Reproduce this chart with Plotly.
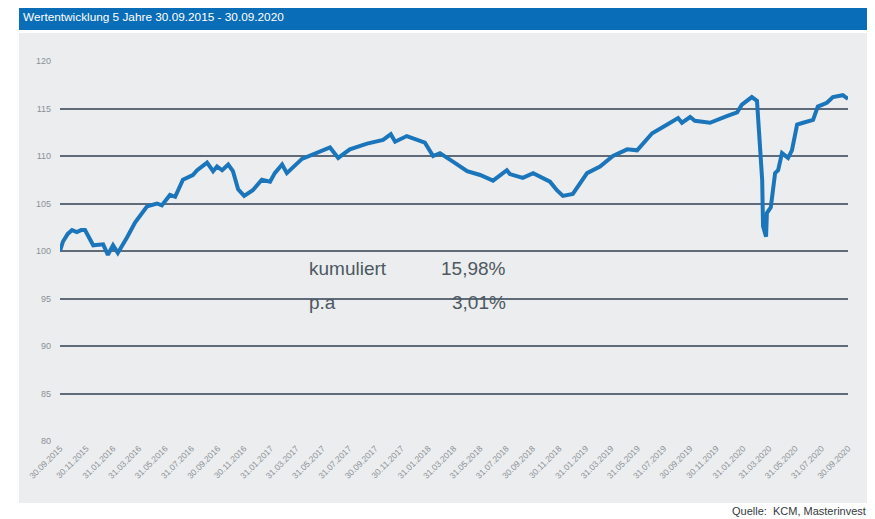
import plotly.graph_objects as go

datum = [
    "2015-09-30", "2015-10-07", "2015-10-18", "2015-10-28", "2015-11-08", "2015-11-18", "2015-11-27",
    "2015-12-08", "2015-12-16", "2016-01-08", "2016-01-19", "2016-01-31", "2016-02-11", "2016-03-03",
    "2016-03-22", "2016-04-19", "2016-05-12", "2016-05-23", "2016-06-11", "2016-06-23", "2016-07-11",
    "2016-08-03", "2016-08-13", "2016-09-05", "2016-09-19", "2016-09-28", "2016-10-10", "2016-10-24",
    "2016-11-04", "2016-11-16", "2016-11-30", "2016-12-20", "2017-01-10", "2017-01-29", "2017-02-09",
    "2017-02-26", "2017-03-09", "2017-04-13", "2017-05-18", "2017-06-17", "2017-07-06", "2017-08-02",
    "2017-09-11", "2017-10-18", "2017-11-05", "2017-11-15", "2017-12-12", "2018-01-05", "2018-01-23",
    "2018-02-11", "2018-02-27", "2018-03-29", "2018-05-01", "2018-05-31", "2018-06-30", "2018-08-01",
    "2018-08-08", "2018-09-07", "2018-10-01", "2018-11-09", "2018-11-25", "2018-12-09", "2019-01-01",
    "2019-02-03", "2019-03-05", "2019-04-04", "2019-05-07", "2019-05-30", "2019-06-17", "2019-07-04",
    "2019-08-07", "2019-09-02", "2019-09-11", "2019-09-30", "2019-10-11", "2019-11-15", "2019-12-24",
    "2020-01-17", "2020-01-28", "2020-02-10", "2020-02-20", "2020-03-03", "2020-03-15", "2020-03-17",
    "2020-03-20", "2020-03-24", "2020-03-26", "2020-04-04", "2020-04-14", "2020-04-21", "2020-04-30",
    "2020-05-14", "2020-05-23", "2020-06-04", "2020-06-18", "2020-07-11", "2020-07-22", "2020-08-12",
    "2020-08-26", "2020-09-18", "2020-09-30",
]
wert = [
    100.0, 101.0, 101.8, 102.2, 102.0, 102.2, 102.2,
    101.2, 100.6, 100.7, 99.6, 100.6, 99.8, 101.4,
    103.0, 104.7, 105.0, 104.8, 105.9, 105.7, 107.5,
    108.0, 108.5, 109.3, 108.4, 108.9, 108.5, 109.1,
    108.4, 106.5, 105.8, 106.4, 107.5, 107.3, 108.2,
    109.1, 108.2, 109.7, 110.3, 110.9, 109.8, 110.7,
    111.3, 111.7, 112.3, 111.5, 112.1, 111.7, 111.4,
    110.0, 110.3, 109.4, 108.4, 108.0, 107.4, 108.5,
    108.1, 107.7, 108.2, 107.3, 106.4, 105.8, 106.0,
    108.2, 108.9, 110.0, 110.7, 110.6, 111.6, 112.4,
    113.3, 114.0, 113.5, 114.1, 113.7, 113.5, 114.2,
    114.6, 115.4, 115.8, 116.2, 115.8, 107.5, 102.6,
    102.0, 101.5, 104.0, 104.6, 108.2, 108.5, 110.3,
    109.8, 110.6, 113.3, 113.5, 113.8, 115.2, 115.6,
    116.2, 116.4, 116.0,
]

tick_datum = [
    "2015-09-30", "2015-11-30", "2016-01-31", "2016-03-31", "2016-05-31", "2016-07-31",
    "2016-09-30", "2016-11-30", "2017-01-31", "2017-03-31", "2017-05-31", "2017-07-31",
    "2017-09-30", "2017-11-30", "2018-01-31", "2018-03-31", "2018-05-31", "2018-07-31",
    "2018-09-30", "2018-11-30", "2019-01-31", "2019-03-31", "2019-05-31", "2019-07-31",
    "2019-09-30", "2019-11-30", "2020-01-31", "2020-03-31", "2020-05-31", "2020-07-31",
    "2020-09-30",
]
tick_text = [d[8:10] + "." + d[5:7] + "." + d[0:4] for d in tick_datum]
y_ticks = [80, 85, 90, 95, 100, 105, 110, 115, 120]

blau = "#1b75bb"
grau_text = "#8a9098"
dunkel = "#4c5862"

fig = go.Figure()
fig.add_trace(go.Scatter(x=datum, y=wert, mode="lines",
                         line=dict(color=blau, width=4), hoverinfo="x+y"))

# die Seite hat 8px Rand, daher Ränder um 8px verschoben
fig.update_layout(
    width=875, height=519,
    margin=dict(l=52, r=35, t=53, b=86),
    paper_bgcolor="white", plot_bgcolor="rgba(0,0,0,0)",
    showlegend=False,
    font=dict(family="Liberation Sans, Arial", color=grau_text),
)
fig.update_xaxes(
    type="date", range=["2015-09-30", "2020-09-30"],
    tickvals=tick_datum, ticktext=tick_text, tickangle=-45,
    tickfont=dict(size=8.5, color=grau_text),
    showgrid=False, zeroline=False, showline=False, ticks="",
)
fig.update_yaxes(
    range=[80, 120], tickvals=y_ticks,
    tickfont=dict(size=9, color=grau_text),
    showgrid=True, gridcolor="#5f6b78", gridwidth=1.5,
    zeroline=False, showline=False, ticks="", ticklabelstandoff=8,
)

# grauer Hintergrund und blaue Kopfzeile
fig.add_shape(type="rect", xref="paper", yref="paper", x0=-0.052, x1=1.028, y0=-0.163, y1=1.074,
              fillcolor="#ecedee", line=dict(width=0), layer="below")
fig.add_shape(type="rect", xref="paper", yref="paper", x0=-0.052, x1=1.028, y0=1.0816, y1=1.15,
              fillcolor="#0a6db7", line=dict(width=0), layer="below")

fig.add_annotation(text="Wertentwicklung 5 Jahre 30.09.2015 - 30.09.2020", xref="paper", yref="paper",
                   x=-0.049, y=1.116, xanchor="left", yanchor="middle", showarrow=False,
                   font=dict(size=11.8, color="white"))
fig.add_annotation(text="kumuliert", xref="paper", yref="paper", x=0.314, y=0.455,
                   xanchor="left", yanchor="middle", showarrow=False, font=dict(size=19, color=dunkel))
fig.add_annotation(text="15,98%", xref="paper", yref="paper", x=0.568, y=0.455,
                   xanchor="right", yanchor="middle", showarrow=False, font=dict(size=19, color=dunkel))
fig.add_annotation(text="p.a", xref="paper", yref="paper", x=0.314, y=0.365,
                   xanchor="left", yanchor="middle", showarrow=False, font=dict(size=19, color=dunkel))
fig.add_annotation(text="3,01%", xref="paper", yref="paper", x=0.568, y=0.365,
                   xanchor="right", yanchor="middle", showarrow=False, font=dict(size=19, color=dunkel))
fig.add_annotation(text="Quelle:  KCM, Masterinvest", xref="paper", yref="paper", x=1.026, y=-0.184,
                   xanchor="right", yanchor="middle", showarrow=False, font=dict(size=11, color="#333a40"))

fig.write_html("out.html")
